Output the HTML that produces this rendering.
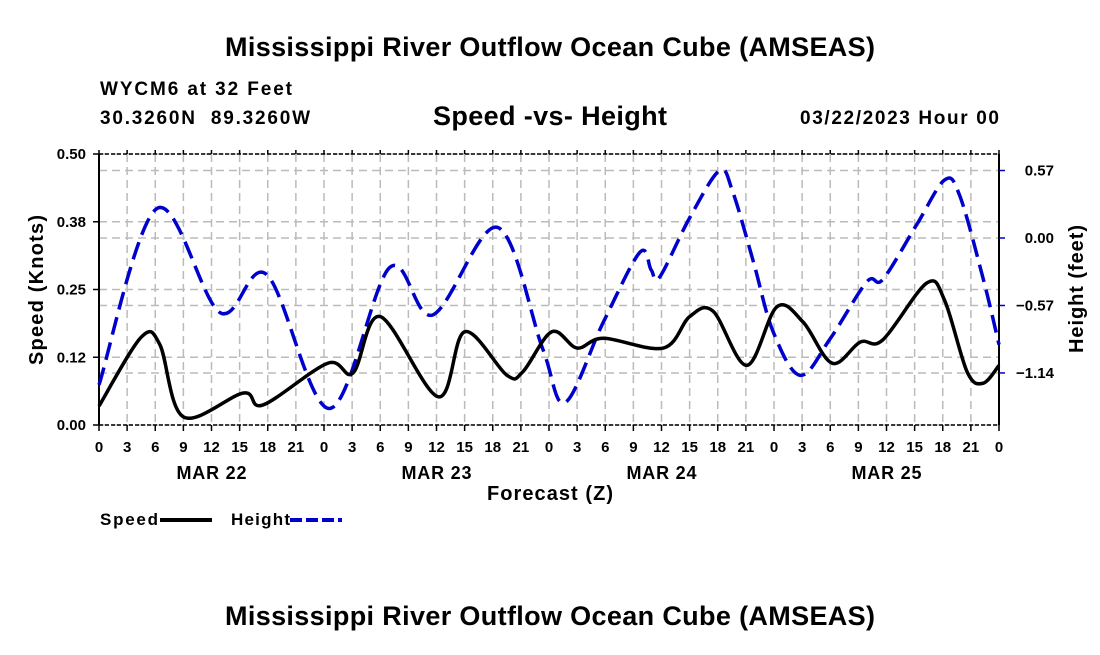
<!DOCTYPE html>
<html><head><meta charset="utf-8"><style>
body{margin:0;background:#fff;}
svg text{font-family:"Liberation Sans",Arial,sans-serif;font-weight:bold;fill:#000;white-space:pre;}
</style></head><body>
<svg id="c" width="1100" height="650" viewBox="0 0 1100 650">
<text x="550" y="56" text-anchor="middle" font-size="27" textLength="650">Mississippi River Outflow Ocean Cube (AMSEAS)</text>
<text x="100" y="95" font-size="19" textLength="192">WYCM6 at 32 Feet</text>
<text x="100" y="124" font-size="19" textLength="210">30.3260N  89.3260W</text>
<text x="550" y="125" text-anchor="middle" font-size="27" textLength="234">Speed -vs- Height</text>
<text x="999" y="124" text-anchor="end" font-size="19" textLength="199">03/22/2023 Hour 00</text>
<text x="550" y="625" text-anchor="middle" font-size="27" textLength="650">Mississippi River Outflow Ocean Cube (AMSEAS)</text>
<text transform="translate(43,290) rotate(-90)" text-anchor="middle" font-size="20" textLength="150">Speed (Knots)</text>
<text transform="translate(1083,289) rotate(-90)" text-anchor="middle" font-size="20" textLength="128">Height (feet)</text>
<text x="550" y="500" text-anchor="middle" font-size="20" textLength="126">Forecast (Z)</text>
<g>
<text x="100" y="525" font-size="17" textLength="58">Speed</text>
<line x1="160" y1="520" x2="212" y2="520" stroke="#000" stroke-width="4"/>
<text x="231" y="525" font-size="17" textLength="59">Height</text>
<line x1="290" y1="520" x2="342" y2="520" stroke="#0000cc" stroke-width="4" stroke-dasharray="12,4"/>
</g>
<g id="g"></g>
</svg>
<script>
const speedHours=[0,4.5,6.5,9,15.4,17.5,24.4,27.1,30,36.2,39,43.5,45.2,48.3,51,53.8,60.2,63,65.5,69.1,72.3,75.1,78.2,81.2,83.6,88.3,90.2,92.6,94.3,96];
const speedValues=[0.035,0.162,0.148,0.015,0.059,0.037,0.114,0.096,0.2,0.052,0.172,0.092,0.098,0.172,0.142,0.16,0.142,0.2,0.21,0.11,0.218,0.19,0.114,0.153,0.157,0.262,0.23,0.098,0.077,0.11];
const heightHours=[0,6.2,12.9,17.9,24.6,31,35.6,42.5,47.3,49.7,53.8,57.7,58.9,59.8,63,66.2,67.6,69.8,71.9,74.8,78,81.9,83.6,87.2,90.2,91.8,94.3,96];
const heightValues=[-1.24,0.25,-0.63,-0.31,-1.44,-0.25,-0.65,0.09,-0.93,-1.39,-0.71,-0.12,-0.27,-0.33,0.17,0.57,0.39,-0.2,-0.79,-1.16,-0.85,-0.37,-0.35,0.11,0.49,0.36,-0.34,-0.9];
const leftTicks=[0,0.125,0.25,0.375,0.5];
const leftTickLabels=["0.00","0.12","0.25","0.38","0.50"];
const rightTicks=[-1.14,-0.57,0,0.57];
const rightTickLabels=["\u22121.14","\u22120.57","0.00","0.57"];
const dayLabels=["MAR 22","MAR 23","MAR 24","MAR 25"];
const dayLabelHours=[12,36,60,84];

const X0=99,X1=999,Y0=154,Y1=425;
const xs=h=>X0+(X1-X0)*h/96;
const ys=v=>Y1-(Y1-Y0)*v/0.5;
const yh=v=>238-v*118.4;
const NS="http://www.w3.org/2000/svg";
const g=document.getElementById('g');
function mk(t,a,p){const e=document.createElementNS(NS,t);for(const k in a)e.setAttribute(k,a[k]);(p||g).appendChild(e);return e;}
leftTicks.forEach(v=>{const l=mk('line',{x1:X0,x2:X1,y1:ys(v),y2:ys(v),stroke:'#bbb','stroke-width':1.5,'stroke-dasharray':'8,5'});

});
rightTicks.forEach(v=>{const l=mk('line',{x1:X0,x2:X1,y1:yh(v),y2:yh(v),stroke:'#bbb','stroke-width':1.5,'stroke-dasharray':'8,5'});

});
for(let h=3;h<96;h+=3){const l=mk('line',{x1:xs(h),x2:xs(h),y1:Y0,y2:Y1,stroke:'#bbb','stroke-width':1.5,'stroke-dasharray':'8,5'});

}
let a=mk('line',{x1:X0,x2:X0,y1:Y0,y2:Y1,stroke:'#000','stroke-width':2});


a=mk('line',{x1:X1,x2:X1,y1:Y0,y2:Y1,stroke:'#000','stroke-width':2});


a=mk('line',{x1:X0,x2:X1,y1:Y1,y2:Y1,stroke:'#000','stroke-width':1.5,'stroke-dasharray':'4,2'});


a=mk('line',{x1:X0,x2:X1,y1:Y0,y2:Y0,stroke:'#000','stroke-width':1.5,'stroke-dasharray':'4,2'});


for(let h=0;h<=96;h+=3){
 mk('line',{x1:xs(h),x2:xs(h),y1:Y1,y2:Y1+6,stroke:'#000','stroke-width':1.5});
 mk('line',{x1:xs(h),x2:xs(h),y1:Y0-4,y2:Y0,stroke:'#000','stroke-width':1.5});
 const t=mk('text',{x:xs(h),y:452,'text-anchor':'middle','font-size':15});t.textContent=String(h%24);
 
 
}
dayLabels.forEach((d,i)=>{const t=mk('text',{x:xs(dayLabelHours[i]),y:479,'text-anchor':'middle','font-size':18,textLength:70});t.textContent=d;

});
leftTicks.forEach((v,i)=>{mk('line',{x1:X0-6,x2:X0,y1:ys(v),y2:ys(v),stroke:'#000','stroke-width':1.5});
const t=mk('text',{x:86,y:ys(v)+5,'text-anchor':'end','font-size':15});t.textContent=leftTickLabels[i];

});
rightTicks.forEach((v,i)=>{mk('line',{x1:X1,x2:X1+6,y1:yh(v),y2:yh(v),stroke:'#0000cc','stroke-width':1.5});
const t=mk('text',{x:1054,y:yh(v)+5,'text-anchor':'end','font-size':15});t.textContent=rightTickLabels[i];

});
function spline(pts){let d='M'+pts[0][0]+','+pts[0][1];
for(let i=0;i<pts.length-1;i++){const p0=pts[Math.max(0,i-1)],p1=pts[i],p2=pts[i+1],p3=pts[Math.min(pts.length-1,i+2)];
const c1=[p1[0]+(p2[0]-p0[0])/6,p1[1]+(p2[1]-p0[1])/6],c2=[p2[0]-(p3[0]-p1[0])/6,p2[1]-(p3[1]-p1[1])/6];
d+=' C'+c1+' '+c2+' '+p2;}return d;}
const hp=mk('path',{d:spline(heightHours.map((h,i)=>[xs(h),yh(heightValues[i])])),fill:'none',stroke:'#0000cc','stroke-width':3.5,'stroke-dasharray':'18,8'});


const sp=mk('path',{d:spline(speedHours.map((h,i)=>[xs(h),ys(speedValues[i])])),fill:'none',stroke:'#000','stroke-width':3.5});


</script>
</body></html>
